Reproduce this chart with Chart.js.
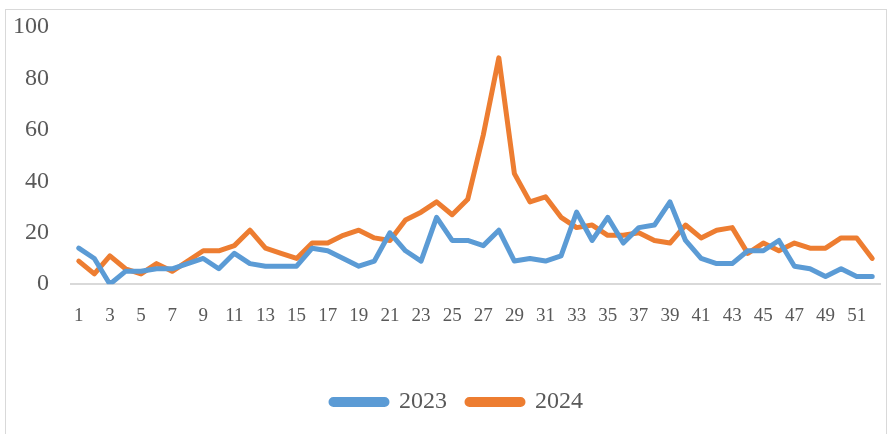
<!DOCTYPE html>
<html lang="en">
<head>
  <meta charset="UTF-8">
  <title>2023 vs 2024</title>
  <script src="https://cdn.jsdelivr.net/npm/chart.js"></script>
  <style>
    body {
      margin: 0;
      background: #fff;
      overflow: hidden;
    }

    .chart-box {
      position: absolute;
      left: 5px;
      top: 9px;
      width: 880px;
      height: 440px;
      border: 1px solid #d9d9d9;
      background: #fff;
    }
  </style>
</head>
<body>

  <div class="chart-box">
    <canvas id="weekChart" width="880" height="424"></canvas>
  </div>

  <script>
    const weeks = Array.from({ length: 52 }, (_, i) => String(i + 1));

    const values2023 = [
      14, 10, 0, 5, 5, 6, 6, 8, 10, 6,
      12, 8, 7, 7, 7, 14, 13, 10, 7, 9,
      20, 13, 9, 26, 17, 17, 15, 21, 9, 10,
      9, 11, 28, 17, 26, 16, 22, 23, 32, 17,
      10, 8, 8, 13, 13, 17, 7, 6, 3, 6,
      3, 3
    ];

    const values2024 = [
      9, 4, 11, 6, 4, 8, 5, 9, 13, 13,
      15, 21, 14, 12, 10, 16, 16, 19, 21, 18,
      17, 25, 28, 32, 27, 33, 58, 88, 43, 32,
      34, 26, 22, 23, 19, 19, 20, 17, 16, 23,
      18, 21, 22, 12, 16, 13, 16, 14, 14, 18,
      18, 10
    ];

    const yTicks = [0, 20, 40, 60, 80, 100];

    const textColor = "#595959";
    const fontFamily = "'Liberation Serif', 'DejaVu Serif', serif";

    // the original legend sits a little right of centre
    const legendShift = {
      id: "legendShift",
      afterLayout(chart) {
        chart.legend.left += 14;
        chart.legend.right += 14;
      }
    };

    const ctx = document.getElementById("weekChart").getContext("2d");
    new Chart(ctx, {
      type: "line",
      data: {
        labels: weeks,
        datasets: [
          {
            label: "2023",
            data: values2023,
            borderColor: "#5B9BD5",
            backgroundColor: "#5B9BD5",
            borderWidth: 5,
            pointRadius: 0,
            tension: 0,
            borderJoinStyle: "round",
            borderCapStyle: "round",
            fill: false
          },
          {
            label: "2024",
            data: values2024,
            borderColor: "#ED7D31",
            backgroundColor: "#ED7D31",
            borderWidth: 5,
            pointRadius: 0,
            tension: 0,
            borderJoinStyle: "round",
            borderCapStyle: "round",
            fill: false
          }
        ]
      },
      plugins: [legendShift],
      options: {
        responsive: false,
        animation: false,
        layout: {
          autoPadding: false,
          padding: { top: 17, left: 0, right: 6, bottom: 10 }
        },
        plugins: {
          tooltip: { enabled: false },
          legend: {
            position: "bottom",
            labels: {
              color: textColor,
              font: { family: fontFamily, size: 24 },
              boxWidth: 56,
              boxHeight: 5,
              useBorderRadius: true,
              borderRadius: 2.5,
              padding: 20
            }
          }
        },
        scales: {
          x: {
            offset: true,
            afterFit: function (scale) {
              scale.height += 23;
              scale.paddingLeft = 0;
              scale.paddingRight = 0;
            },
            grid: { display: false, drawTicks: false },
            border: { display: true, color: "#d9d9d9", width: 2 },
            ticks: {
              color: textColor,
              font: { family: fontFamily, size: 19 },
              autoSkip: false,
              maxRotation: 0,
              padding: 20,
              callback: function (value, index) {
                return index % 2 === 0 ? weeks[index] : "";
              }
            }
          },
          y: {
            min: 0,
            max: 100,
            afterBuildTicks: function (scale) {
              scale.ticks = yTicks.map(v => ({ value: v }));
            },
            afterFit: function (scale) {
              scale.width = 65;
              scale.paddingTop = 0;
              scale.paddingBottom = 0;
            },
            grid: { display: false, drawTicks: false },
            border: { display: false },
            ticks: {
              color: textColor,
              font: { family: fontFamily, size: 24 },
              padding: 22
            }
          }
        }
      }
    });
  </script>
</body>
</html>
